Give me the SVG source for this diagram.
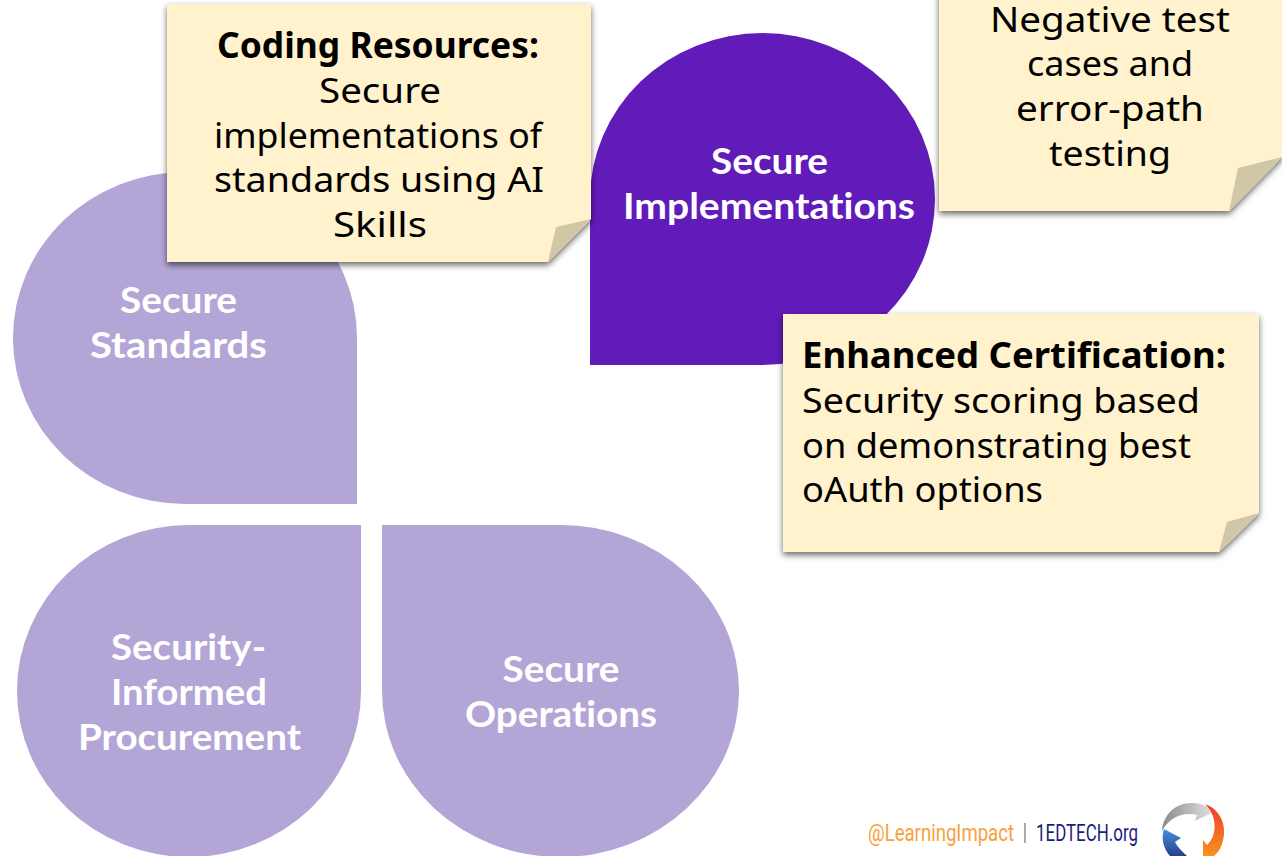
<svg xmlns="http://www.w3.org/2000/svg" width="1282" height="856" viewBox="0 0 1282 856">
<style>
.lt{fill:#b3a6d6}
.w{font-family:"Lato","Noto Sans",sans-serif;font-weight:700;font-size:37px;fill:#fff;text-anchor:middle;font-variant-ligatures:none}
.n{font-family:"Noto Sans","Open Sans",sans-serif;font-size:35px;fill:#000}
.b{font-weight:700}
.m{text-anchor:middle}
.note{fill:#fff2cc;filter:url(#sh)}
.fold{fill:#cfc7a6}
.f{font-family:Roboto,sans-serif;font-size:23px}
</style>
<defs>
<filter id="sh" x="-5%" y="-5%" width="112%" height="115%"><feDropShadow dx="0" dy="3" stdDeviation="3" flood-color="#000" flood-opacity=".6"/></filter>
<linearGradient id="g1" x1="0" y1="0" x2="1" y2="0"><stop offset="0" stop-color="#8a8a8a"/><stop offset="1" stop-color="#e4e4e4"/></linearGradient>
<linearGradient id="g2" x1="0" y1="0" x2="0" y2="1"><stop offset="0" stop-color="#ef3b2c"/><stop offset="1" stop-color="#f7941d"/></linearGradient>
<linearGradient id="g3" x1="0" y1="0" x2="0" y2="1"><stop offset="0" stop-color="#4a90d9"/><stop offset="1" stop-color="#26408f"/></linearGradient>
</defs>
<rect width="1282" height="856" fill="#fff"/>
<g id="secure-standards"><path class="lt" d="M357 504H185A172 166 0 0 1 13 338A172 166 0 0 1 185 172A172 166 0 0 1 357 338Z"/>
<text class="w" x="178.500" y="313" textLength="117" lengthAdjust="spacingAndGlyphs">Secure</text><text class="w" x="178.500" y="358" textLength="177" lengthAdjust="spacingAndGlyphs">Standards</text></g>
<g id="secure-implementations"><path fill="#611bb8" d="M590 365V199A172.500 166 0 0 1 762.500 33A172.500 166 0 0 1 935 199A172.500 166 0 0 1 762.500 365Z"/>
<text class="w" x="769.500" y="174" textLength="117" lengthAdjust="spacingAndGlyphs">Secure</text><text class="w" x="769" y="219" textLength="292" lengthAdjust="spacingAndGlyphs">Implementations</text></g>
<g id="security-informed-procurement"><path class="lt" d="M361 525V691A172 166 0 0 1 189 857A172 166 0 0 1 17 691A172 166 0 0 1 189 525Z"/>
<text class="w" x="188.500" y="660" textLength="155" lengthAdjust="spacingAndGlyphs">Security-</text><text class="w" x="189" y="705" textLength="156" lengthAdjust="spacingAndGlyphs">Informed</text><text class="w" x="189.500" y="750" textLength="223" lengthAdjust="spacingAndGlyphs">Procurement</text></g>
<g id="secure-operations"><path class="lt" d="M382 525H560A178.500 166 0 0 1 739 691A178.500 166 0 0 1 560 857A178.500 166 0 0 1 382 691Z"/>
<text class="w" x="561" y="682" textLength="117" lengthAdjust="spacingAndGlyphs">Secure</text><text class="w" x="561" y="727" textLength="192" lengthAdjust="spacingAndGlyphs">Operations</text></g>
<g id="note-coding"><path class="note" d="M167 4H591V219L548 262H167Z"/><path class="fold" d="M591 219L556 227L548 262Z"/>
<text class="n b m" x="378" y="58" textLength="322" lengthAdjust="spacingAndGlyphs">Coding Resources:</text>
<text class="n m" x="380" y="103" textLength="122" lengthAdjust="spacingAndGlyphs">Secure</text>
<text class="n m" x="378" y="148" textLength="328" lengthAdjust="spacingAndGlyphs">implementations of</text>
<text class="n m" x="379" y="192" textLength="330" lengthAdjust="spacingAndGlyphs">standards using AI</text>
<text class="n m" x="380" y="237" textLength="94" lengthAdjust="spacingAndGlyphs">Skills</text></g>
<g id="note-negative"><path class="note" d="M939 -10H1282V157L1229 211H939Z"/><path class="fold" d="M1282 157L1238 168L1229 211Z"/>
<text class="n m" x="1110" y="32" textLength="240" lengthAdjust="spacingAndGlyphs">Negative test</text>
<text class="n m" x="1110" y="76" textLength="166" lengthAdjust="spacingAndGlyphs">cases and</text>
<text class="n m" x="1110" y="121" textLength="188" lengthAdjust="spacingAndGlyphs">error-path</text>
<text class="n m" x="1110" y="166" textLength="122" lengthAdjust="spacingAndGlyphs">testing</text></g>
<g id="note-certification"><path class="note" d="M783 314H1259V513L1219 552H783Z"/><path class="fold" d="M1259 513L1227 522L1219 552Z"/>
<text class="n b" x="802" y="368" textLength="424" lengthAdjust="spacingAndGlyphs">Enhanced Certification:</text>
<text class="n" x="802" y="413" textLength="398" lengthAdjust="spacingAndGlyphs">Security scoring based</text>
<text class="n" x="802" y="458" textLength="389" lengthAdjust="spacingAndGlyphs">on demonstrating best</text>
<text class="n" x="802" y="502" textLength="241" lengthAdjust="spacingAndGlyphs">oAuth options</text></g>
<g id="connectors"></g>
<g id="footer">
<text class="f" x="868" y="841" fill="#f9a13a" textLength="146" lengthAdjust="spacingAndGlyphs">@LearningImpact</text>
<rect x="1024" y="823" width="2" height="20" fill="#aaa"/>
<text class="f" x="1036" y="841" fill="#1b1f7a" textLength="102" lengthAdjust="spacingAndGlyphs">1EDTECH.org</text>
<path fill="url(#g1)" d="M1162 831C1163 813 1178 802 1193 803C1202 803 1209 807 1214 812L1195 821L1197 815C1182 811 1168 819 1162 831Z"/>
<path fill="url(#g2)" d="M1205 804C1219 809 1225 822 1224 834C1223 845 1219 852 1214 856H1203V840L1207 845C1218 835 1217 815 1205 804Z"/>
<path fill="url(#g3)" d="M1164 829L1181 838L1175 842C1178 848 1183 852 1187 856H1170C1163 848 1161 838 1164 829Z"/>
</g>
</svg>
